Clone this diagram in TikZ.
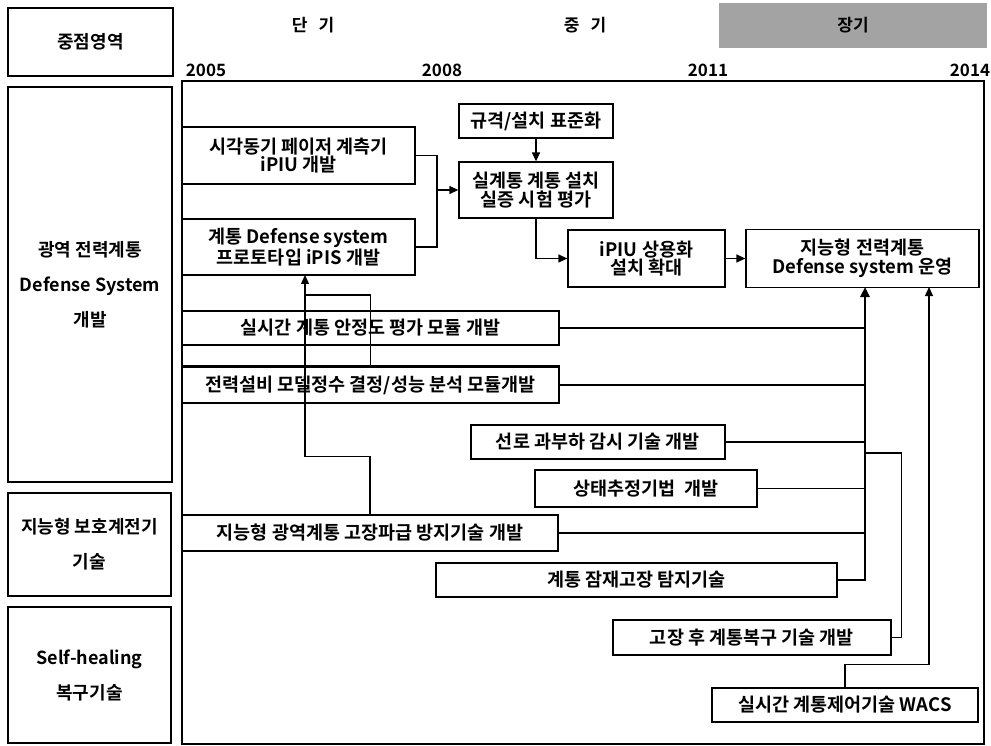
\documentclass[tikz,border=0pt]{standalone}
\usepackage{fontspec}
\setmainfont{Noto Sans CJK KR}[BoldFont={Noto Sans CJK KR Bold}]
\usetikzlibrary{arrows.meta}
\begin{document}
\begin{tikzpicture}[x=1pt,y=-1pt,
  bx/.style={draw, line width=1.3pt, inner sep=0pt, align=center,
    font=\bfseries\fontsize{18.5}{18.5}\selectfont},
  side/.style={draw, line width=1.3pt, inner sep=0pt, align=center,
    font=\bfseries\fontsize{18}{35}\selectfont},
  lbl/.style={inner sep=0pt, font=\bfseries\fontsize{17}{19}\selectfont},
  yr/.style={inner sep=0pt, font=\bfseries\fontsize{17}{19}\selectfont},
  ln/.style={line width=1.3pt},
  arr/.style={line width=1.3pt, -{Triangle[length=9pt,width=8pt]}},
  thk/.style={line width=2.6pt, -{Triangle[length=10pt,width=9pt]}}]
\useasboundingbox (0,0) rectangle (991,746);

% left column
\node[side, minimum width=165pt, minimum height=68pt] (hdr) at (90.5,42) {중점영역};
\node[side, minimum width=164pt, minimum height=395pt] (g1) at (90,284.5) {광역 전력계통\\Defense System\\개발};
\node[side, minimum width=163pt, minimum height=103pt] (g2) at (89.5,544.5) {지능형 보호계전기\\기술};
\node[side, minimum width=163pt, minimum height=136pt] (g3) at (89.5,675) {Self-healing\\복구기술};

% period headers
\node[lbl] (p1) at (313,25) {단\hspace{11pt}기};
\node[lbl] (p2) at (585,25) {중\hspace{11pt}기};
\node[lbl, fill=black!36, text=black, minimum width=268pt, minimum height=45pt] (p3) at (853,25.5) {장기};

% years
\node[yr] (y1) at (206,70) {2005};
\node[yr] (y2) at (442,70) {2008};
\node[yr] (y3) at (708,70) {2011};
\node[yr] (y4) at (970,70) {2014};

% frame
\draw[ln] (182,81) rectangle (984,744);

% boxes
\node[bx, minimum width=233pt, minimum height=57pt] (A) at (298.5,155.5) {시각동기 페이저 계측기\\iPIU 개발};
\node[bx, minimum width=233pt, minimum height=56pt] (B) at (298.5,247) {계통 Defense system\\프로토타입 iPIS 개발};
\node[bx, minimum width=154pt, minimum height=34pt] (std) at (536,121) {규격/설치 표준화};
\node[bx, minimum width=154pt, minimum height=56pt] (real) at (536,190) {실계통 계통 설치\\실증 시험 평가};
\node[bx, minimum width=157pt, minimum height=57pt] (ipiu) at (646.5,258.5) {iPIU 상용화\\설치 확대};
\node[bx, minimum width=233pt, minimum height=58pt] (ops) at (862.5,258.5) {지능형 전력계통\\Defense system 운영};
\node[bx, minimum width=377pt, minimum height=34pt] (C) at (370.5,328) {실시간 계통 안정도 평가 모듈 개발};
\node[bx, minimum width=377pt, minimum height=36pt] (D) at (370.5,385) {전력설비 모델정수 결정/성능 분석 모듈개발};
\node[bx, minimum width=254pt, minimum height=34pt] (L) at (598,442) {선로 과부하 감시 기술 개발};
\node[bx, minimum width=222pt, minimum height=37pt] (S) at (646,488.5) {상태추정기법\ \ 개발};
\node[bx, minimum width=376pt, minimum height=36pt] (E) at (370,533) {지능형 광역계통 고장파급 방지기술 개발};
\node[bx, minimum width=401pt, minimum height=34pt] (F) at (636.5,580) {계통 잠재고장 탐지기술};
\node[bx, minimum width=278pt, minimum height=35pt] (G) at (752,637.5) {고장 후 계통복구 기술 개발};
\node[bx, minimum width=266pt, minimum height=34pt] (H) at (845,705) {실시간 계통제어기술 WACS};
\draw[line width=2.6pt] (D.north west) -- (D.north east);

% junction coordinates
\coordinate (jAB) at (437,190);
\coordinate (t1) at (865,287);
\coordinate (t2) at (929,287);
\coordinate (jG) at (865,453);
\coordinate (tB) at (305,275);
\coordinate (k) at (305,295);

% connectors
\draw[ln] (A.east) -| (jAB);
\draw[ln] (B.east) -| (jAB);
\draw[arr] (jAB) -- (real.west);
\draw[arr] (std.south) -- (real.north);
\draw[arr] (real.south) |- (ipiu.west);
\draw[arr] (ipiu.east) -- (ops.west);
\draw[thk] (F.east) -| (t1);
\draw[ln] (C.east) -- (C.east -| t1);
\draw[ln] (D.east) -- (D.east -| t1);
\draw[ln] (L.east) -- (L.east -| t1);
\draw[ln] (S.east) -- (S.east -| t1);
\draw[ln] (E.east) -- (E.east -| t1);
\draw[ln] (G.east) -- ++(10,0) |- (jG);
\draw[arr] (H.north) -- ++(0,-23) -| (t2);
\draw[arr] (E.north) -- ++(0,-58) -| (tB);
\draw[ln] (D.north) |- (k);
\end{tikzpicture}
\end{document}
